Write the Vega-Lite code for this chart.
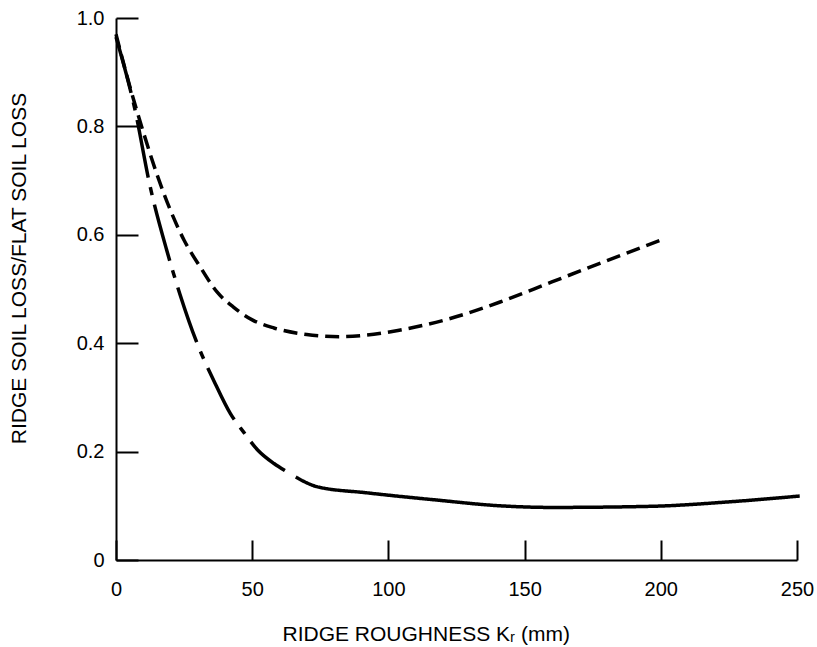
{
  "$schema": "https://vega.github.io/schema/vega-lite/v6.json",
  "width": 681,
  "height": 542,
  "autosize": {"type": "none"},
  "padding": {"left": 116, "top": 18, "right": 20, "bottom": 87},
  "background": "white",
  "config": {"view": {"stroke": null}, "font": "Liberation Sans"},
  "data": {
    "values": [
      {"curve": "upper", "stroke": "dash", "kr": 0, "ratio": 0.97},
      {"curve": "upper", "stroke": "dash", "kr": 5, "ratio": 0.875},
      {"curve": "upper", "stroke": "dash", "kr": 10, "ratio": 0.79},
      {"curve": "upper", "stroke": "dash", "kr": 15, "ratio": 0.712},
      {"curve": "upper", "stroke": "dash", "kr": 20, "ratio": 0.645},
      {"curve": "upper", "stroke": "dash", "kr": 25, "ratio": 0.59},
      {"curve": "upper", "stroke": "dash", "kr": 31, "ratio": 0.54},
      {"curve": "upper", "stroke": "dash", "kr": 37, "ratio": 0.495},
      {"curve": "upper", "stroke": "dash", "kr": 43, "ratio": 0.467},
      {"curve": "upper", "stroke": "dash", "kr": 50, "ratio": 0.443},
      {"curve": "upper", "stroke": "dash", "kr": 58, "ratio": 0.428},
      {"curve": "upper", "stroke": "dash", "kr": 70, "ratio": 0.416},
      {"curve": "upper", "stroke": "dash", "kr": 82, "ratio": 0.412},
      {"curve": "upper", "stroke": "dash", "kr": 92, "ratio": 0.415},
      {"curve": "upper", "stroke": "dash", "kr": 104, "ratio": 0.424},
      {"curve": "upper", "stroke": "dash", "kr": 123, "ratio": 0.446},
      {"curve": "upper", "stroke": "dash", "kr": 141, "ratio": 0.476},
      {"curve": "upper", "stroke": "dash", "kr": 160, "ratio": 0.513},
      {"curve": "upper", "stroke": "dash", "kr": 178, "ratio": 0.548},
      {"curve": "upper", "stroke": "dash", "kr": 201, "ratio": 0.592},
      {"curve": "lower-a", "stroke": "dashdot", "kr": 0, "ratio": 0.965},
      {"curve": "lower-a", "stroke": "dashdot", "kr": 7, "ratio": 0.83},
      {"curve": "lower-a", "stroke": "dashdot", "kr": 12.5, "ratio": 0.69},
      {"curve": "lower-a", "stroke": "dashdot", "kr": 18.6, "ratio": 0.572},
      {"curve": "lower-a", "stroke": "dashdot", "kr": 23.5, "ratio": 0.49},
      {"curve": "lower-a", "stroke": "dashdot", "kr": 30, "ratio": 0.397},
      {"curve": "lower-a", "stroke": "dashdot", "kr": 36, "ratio": 0.33},
      {"curve": "lower-a", "stroke": "dashdot", "kr": 42, "ratio": 0.27},
      {"curve": "lower-a", "stroke": "dashdot", "kr": 47, "ratio": 0.235},
      {"curve": "lower-a", "stroke": "dashdot", "kr": 52, "ratio": 0.203},
      {"curve": "lower-a", "stroke": "dashdot", "kr": 58, "ratio": 0.178},
      {"curve": "lower-a", "stroke": "dashdot", "kr": 62, "ratio": 0.165},
      {"curve": "lower-b", "stroke": "solid", "kr": 66, "ratio": 0.153},
      {"curve": "lower-b", "stroke": "solid", "kr": 74, "ratio": 0.135},
      {"curve": "lower-b", "stroke": "solid", "kr": 92, "ratio": 0.124},
      {"curve": "lower-b", "stroke": "solid", "kr": 117, "ratio": 0.111},
      {"curve": "lower-b", "stroke": "solid", "kr": 141, "ratio": 0.1},
      {"curve": "lower-b", "stroke": "solid", "kr": 160, "ratio": 0.097},
      {"curve": "lower-b", "stroke": "solid", "kr": 196, "ratio": 0.099},
      {"curve": "lower-b", "stroke": "solid", "kr": 227, "ratio": 0.108},
      {"curve": "lower-b", "stroke": "solid", "kr": 251, "ratio": 0.118}
    ]
  },
  "mark": {
    "type": "line",
    "color": "black",
    "strokeWidth": 3.5,
    "interpolate": "monotone",
    "strokeCap": "butt",
    "clip": false
  },
  "encoding": {
    "x": {
      "field": "kr",
      "type": "quantitative",
      "scale": {"domain": [0, 250], "nice": false},
      "axis": {
        "title": "RIDGE ROUGHNESS Kᵣ (mm)",
        "values": [0, 50, 100, 150, 200, 250],
        "grid": false,
        "domainColor": "black",
        "domainWidth": 2,
        "tickColor": "black",
        "tickWidth": 2,
        "tickSize": -20,
        "labelFlush": false,
        "labelFontSize": 20,
        "labelColor": "black",
        "labelBaseline": "alphabetic",
        "labelPadding": 55,
        "titleFontSize": 21,
        "titleFontWeight": "normal",
        "titleColor": "black",
        "titleAlign": "left",
        "titleBaseline": "alphabetic",
        "titleX": 166,
        "titleY": 80
      }
    },
    "y": {
      "field": "ratio",
      "type": "quantitative",
      "scale": {"domain": [0, 1], "nice": false},
      "axis": {
        "title": "RIDGE SOIL LOSS/FLAT SOIL LOSS",
        "values": [0, 0.2, 0.4, 0.6, 0.8, 1.0],
        "labelExpr": "datum.value === 0 ? '0' : format(datum.value, '.1f')",
        "grid": false,
        "domainColor": "black",
        "domainWidth": 2,
        "tickColor": "black",
        "tickWidth": 2,
        "tickSize": -22,
        "labelFlush": false,
        "labelFontSize": 20,
        "labelColor": "black",
        "labelPadding": 34,
        "titleFontSize": 21,
        "titleFontWeight": "normal",
        "titleColor": "black",
        "titleAngle": -90,
        "titleAlign": "center",
        "titleBaseline": "alphabetic",
        "titleX": -91,
        "titleY": 250
      }
    },
    "strokeDash": {
      "field": "stroke",
      "type": "nominal",
      "scale": {
        "domain": ["dash", "dashdot", "solid"],
        "range": [[14, 7], [58, 10, 8, 10], [1, 0]]
      },
      "legend": null
    },
    "detail": {"field": "curve", "type": "nominal"}
  }
}
